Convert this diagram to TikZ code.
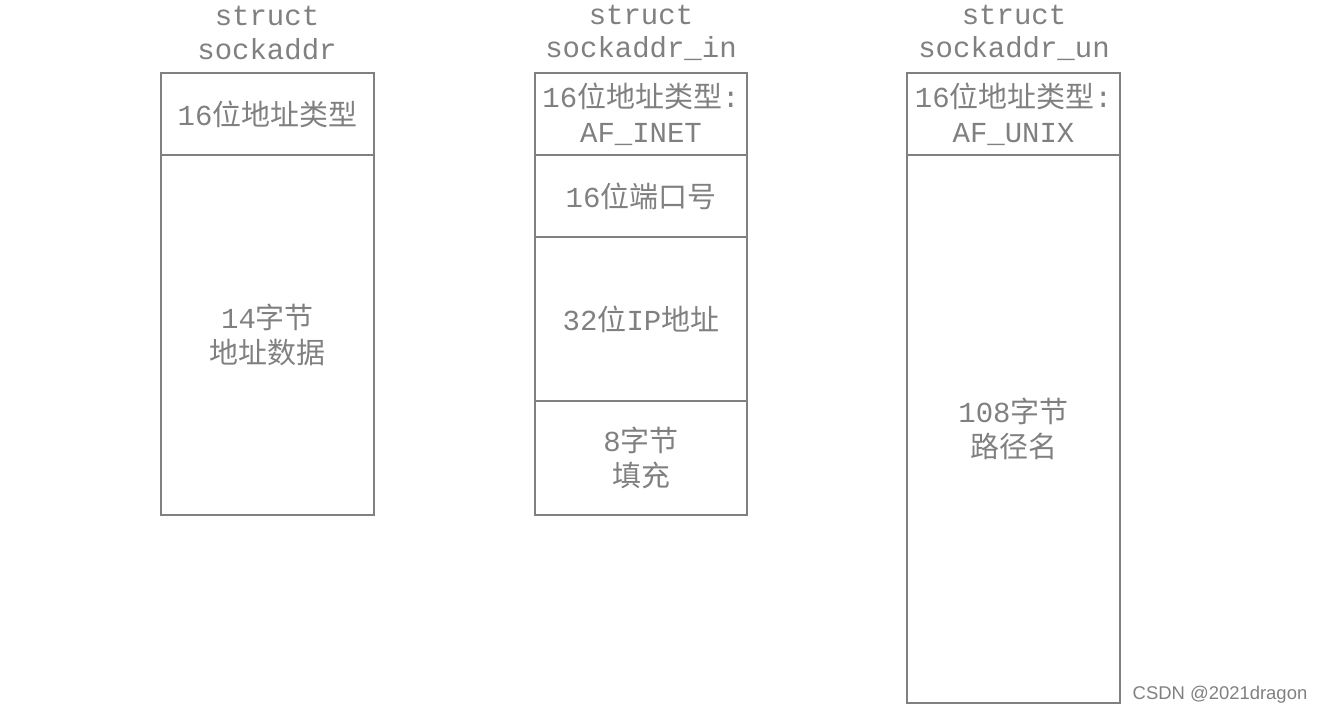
\documentclass[tikz,border=0pt]{standalone}
\usepackage{fontspec}
\setmainfont{Liberation Mono}
\newfontfamily\cjk{Noto Sans CJK SC}
\newfontfamily\wm{Liberation Sans}
\definecolor{tg}{RGB}{128,128,128}
\begin{document}
\begin{tikzpicture}[x=0.02cm,y=-0.02cm,
  cell/.style={draw=tg,line width=1.4pt,inner sep=0pt,text=tg,align=center,font=\fontsize{16.5}{20}\selectfont},
  ttl/.style={text=tg,align=center,font=\fontsize{16.5}{19}\selectfont}]
\useasboundingbox (0,0) rectangle (1325,716);
\newcommand\bx[6]{\node[cell,minimum width=#3*0.02cm,minimum height=#4*0.02cm] (#1) at (#2,#5) {#6};}
% left
\node[ttl] (t1) at (267,33) {struct\\sockaddr};
\bx{a1}{267.5}{213}{82}{114}{16{\cjk 位地址类型}}
\bx{a2}{267.5}{213}{360}{335}{14{\cjk 字节}\\{\cjk 地址数据}}
% middle
\node[ttl] (t2) at (641,33) {struct\\sockaddr\_in};
\bx{b1}{641}{212}{82}{114}{16{\cjk 位地址类型}:\\AF\_INET}
\bx{b2}{641}{212}{82}{196}{16{\cjk 位端口号}}
\bx{b3}{641}{212}{164}{319}{32{\cjk 位}IP{\cjk 地址}}
\bx{b4}{641}{212}{114}{458}{8{\cjk 字节}\\{\cjk 填充}}
% right
\node[ttl] (t3) at (1014,33) {struct\\sockaddr\_un};
\bx{c1}{1013.5}{213}{82}{114}{16{\cjk 位地址类型}:\\AF\_UNIX}
\bx{c2}{1013.5}{213}{548}{429}{108{\cjk 字节}\\{\cjk 路径名}}
\node[text=tg,font=\wm\fontsize{10.5}{12}\selectfont] (w) at (1220,695) {CSDN @2021dragon};
\end{tikzpicture}
\end{document}
